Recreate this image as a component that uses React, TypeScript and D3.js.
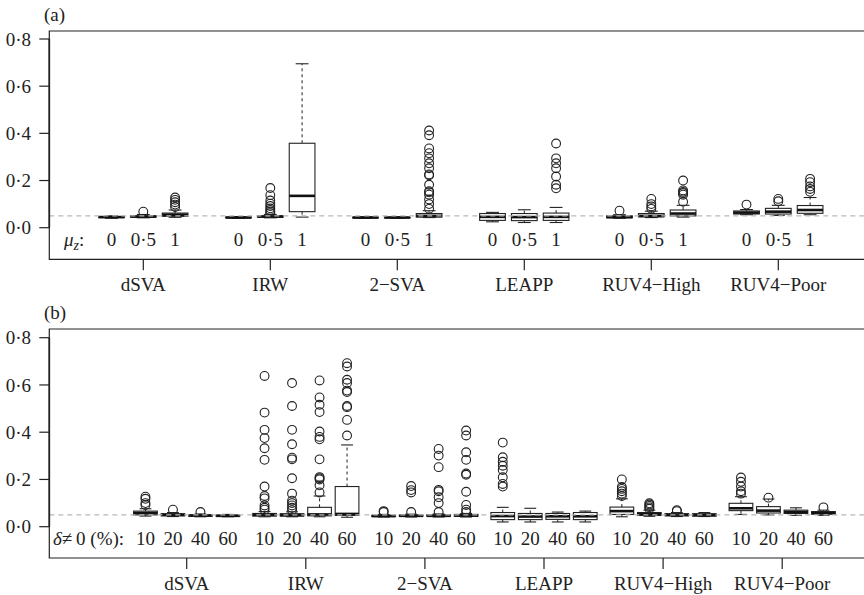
import React from 'react';
import * as d3 from 'd3';

const methods = ['dSVA', 'IRW', '2\u2212SVA', 'LEAPP', 'RUV4\u2212High', 'RUV4\u2212Poor'];
const muLevels = ['0', '0\u00b75', '1'];
const deltaLevels = ['10', '20', '40', '60'];
const yTicks = [0, 0.2, 0.4, 0.6, 0.8];
const nominal = 0.05;

// [lower whisker, q1, median, q3, upper whisker] per method, per level
const statsA = [
  [[0.040, 0.043, 0.045, 0.047, 0.050], [0.042, 0.045, 0.047, 0.050, 0.056], [0.044, 0.048, 0.055, 0.062, 0.075]],
  [[0.040, 0.042, 0.043, 0.045, 0.047], [0.042, 0.045, 0.047, 0.050, 0.056], [0.045, 0.068, 0.135, 0.358, 0.695]],
  [[0.040, 0.042, 0.043, 0.044, 0.046], [0.040, 0.042, 0.043, 0.044, 0.046], [0.043, 0.045, 0.050, 0.060, 0.072]],
  [[0.025, 0.031, 0.046, 0.060, 0.065], [0.022, 0.030, 0.045, 0.060, 0.076], [0.022, 0.031, 0.046, 0.062, 0.086]],
  [[0.040, 0.042, 0.045, 0.050, 0.055], [0.043, 0.046, 0.050, 0.060, 0.070], [0.045, 0.050, 0.060, 0.075, 0.095]],
  [[0.055, 0.058, 0.064, 0.071, 0.077], [0.052, 0.058, 0.068, 0.082, 0.095], [0.055, 0.061, 0.075, 0.094, 0.128]],
];
const outliersA = [
  [[], [0.068], [0.088, 0.098, 0.108, 0.118, 0.128]],
  [[], [0.062, 0.068, 0.075, 0.082, 0.092, 0.102, 0.115, 0.138, 0.168], []],
  [[], [], [0.08, 0.1, 0.12, 0.14, 0.15, 0.155, 0.182, 0.222, 0.226, 0.252, 0.273, 0.294, 0.316, 0.336, 0.392, 0.412]],
  [[], [], [0.167, 0.182, 0.217, 0.252, 0.273, 0.294, 0.357]],
  [[0.072], [0.08, 0.09, 0.1, 0.122], [0.11, 0.14, 0.147, 0.152, 0.158, 0.2]],
  [[0.098], [0.112, 0.122], [0.152, 0.164, 0.175, 0.193, 0.207]],
];

const statsB = [
  [[0.045, 0.050, 0.058, 0.066, 0.076], [0.043, 0.046, 0.050, 0.055, 0.060], [0.042, 0.045, 0.047, 0.050, 0.054], [0.042, 0.044, 0.046, 0.049, 0.052]],
  [[0.042, 0.045, 0.050, 0.056, 0.064], [0.042, 0.045, 0.049, 0.055, 0.063], [0.042, 0.046, 0.052, 0.082, 0.130], [0.040, 0.048, 0.054, 0.170, 0.346]],
  [[0.041, 0.043, 0.045, 0.048, 0.052], [0.041, 0.044, 0.046, 0.049, 0.053], [0.041, 0.044, 0.046, 0.050, 0.054], [0.041, 0.044, 0.047, 0.052, 0.056]],
  [[0.020, 0.030, 0.045, 0.060, 0.082], [0.020, 0.030, 0.043, 0.056, 0.078], [0.020, 0.031, 0.044, 0.056, 0.062], [0.020, 0.030, 0.044, 0.060, 0.066]],
  [[0.042, 0.052, 0.066, 0.083, 0.118], [0.044, 0.048, 0.053, 0.060, 0.070], [0.043, 0.046, 0.050, 0.055, 0.060], [0.043, 0.045, 0.049, 0.055, 0.060]],
  [[0.052, 0.068, 0.078, 0.099, 0.127], [0.050, 0.058, 0.068, 0.085, 0.117], [0.048, 0.056, 0.062, 0.070, 0.080], [0.048, 0.053, 0.058, 0.064, 0.070]],
];
const outliersB = [
  [[0.092, 0.1, 0.118, 0.127], [0.072], [0.062], []],
  [[0.072, 0.08, 0.09, 0.12, 0.13, 0.17, 0.283, 0.332, 0.375, 0.41, 0.483, 0.638],
   [0.07, 0.08, 0.09, 0.1, 0.11, 0.14, 0.205, 0.285, 0.292, 0.349, 0.41, 0.511, 0.608],
   [0.145, 0.175, 0.2, 0.205, 0.21, 0.285, 0.37, 0.38, 0.403, 0.485, 0.516, 0.547, 0.619],
   [0.386, 0.452, 0.506, 0.511, 0.57, 0.576, 0.608, 0.622, 0.678, 0.692]],
  [[0.062, 0.066], [0.062, 0.145, 0.155, 0.172], [0.062, 0.1, 0.125, 0.15, 0.156, 0.252, 0.301, 0.329],
   [0.062, 0.072, 0.092, 0.148, 0.22, 0.225, 0.283, 0.315, 0.386, 0.407]],
  [[0.17, 0.181, 0.209, 0.24, 0.258, 0.275, 0.294, 0.356], [], [], []],
  [[0.13, 0.14, 0.15, 0.16, 0.168, 0.2], [0.076, 0.082, 0.088, 0.094, 0.099], [0.066, 0.07], []],
  [[0.14, 0.15, 0.17, 0.19, 0.208], [0.123], [], [0.082]],
];

const font = '"Liberation Serif", "Times New Roman", serif';
const fs = 19;
const fmt = (v: number) => d3.format('.1f')(v).replace('.', '\u00b7');

function Panel(props: any) {
  const { top, bottom, y0, y8, gx0, gStep, sub, boxW, levels, stats, outliers, tag, levelLabel } = props;
  const left = 49.3;
  const right = 900;
  const y = d3.scaleLinear().domain([0, 0.8]).range([y0, y8]);
  const gx = d3.scaleLinear().domain([0, 1]).range([gx0, gx0 + gStep]);
  const off = d3.scaleLinear().domain([0, 1]).range([-(levels.length - 1) / 2 * sub, -(levels.length - 1) / 2 * sub + sub]);
  const xAt = (g: number, j: number) => gx(g) + off(j);
  const subY = bottom - 13;
  return (
    <g>
      <text x={44} y={top - 10} fontSize={fs} fontFamily={font} fill="#222">{tag}</text>
      {methods.map((m, g) =>
        levels.map((lv: string, j: number) => {
          const [lo, q1, md, q3, hi] = stats[g][j];
          const cx = xAt(g, j);
          const hw = boxW / 2;
          return (
            <g key={m + lv}>
              <line x1={cx} x2={cx} y1={y(q3)} y2={y(hi)} stroke="#222" strokeWidth={1} strokeDasharray="3,3" />
              <line x1={cx} x2={cx} y1={y(q1)} y2={y(lo)} stroke="#222" strokeWidth={1} strokeDasharray="3,3" />
              <line x1={cx - hw / 2} x2={cx + hw / 2} y1={y(hi)} y2={y(hi)} stroke="#222" strokeWidth={1.1} />
              <line x1={cx - hw / 2} x2={cx + hw / 2} y1={y(lo)} y2={y(lo)} stroke="#222" strokeWidth={1.1} />
              <rect x={cx - hw} width={boxW} y={y(q3)} height={Math.max(0.5, y(q1) - y(q3))} fill="white" stroke="#222" strokeWidth={1.1} />
              <line x1={cx - hw} x2={cx + hw} y1={y(md)} y2={y(md)} stroke="#111" strokeWidth={2.6} />
              {outliers[g][j].map((o: number, k: number) => (
                <circle key={k} cx={cx} cy={y(o)} r={4.4} fill="none" stroke="#222" strokeWidth={1.1} />
              ))}
              <text x={cx} y={subY} textAnchor="middle" fontSize={fs} fontFamily={font} fill="#222">{lv}</text>
            </g>
          );
        })
      )}
      {/* dashed reference level drawn over the boxes */}
      <line x1={left} x2={right} y1={y(nominal)} y2={y(nominal)} stroke="#b8b8b8" strokeWidth={1.1} strokeDasharray="5,4" />
      {levelLabel(subY)}
      {/* frame */}
      <path d={`M${right},${top}H${left}V${bottom}H${right}`} fill="none" stroke="#222" strokeWidth={1.2} />
      {/* y axis */}
      <line x1={left} x2={left} y1={y(0)} y2={y(0.8)} stroke="#222" strokeWidth={1.7} />
      {yTicks.map(t => (
        <g key={t}>
          <line x1={left - 10} x2={left} y1={y(t)} y2={y(t)} stroke="#222" strokeWidth={1.2} />
          <text x={31} y={y(t)} dy="0.35em" textAnchor="end" fontSize={fs} fontFamily={font} fill="#222">{fmt(t)}</text>
        </g>
      ))}
      {/* group axis */}
      {methods.map((m, g) => (
        <g key={m}>
          <line x1={gx(g)} x2={gx(g)} y1={bottom} y2={bottom + 11} stroke="#222" strokeWidth={1.2} />
          <text x={gx(g)} y={bottom + 32} textAnchor="middle" fontSize={fs} fontFamily={font} fill="#222">{m}</text>
        </g>
      ))}
    </g>
  );
}

export default function App() {
  return (
    <svg width={864} height={595} style={{ position: 'absolute', left: 0, top: 0, background: 'white' }}>
      <Panel
        top={31} bottom={259.3} y0={227.7} y8={39}
        gx0={143.3} gStep={127} sub={31.8} boxW={25.7}
        levels={muLevels} stats={statsA} outliers={outliersA} tag="(a)"
        levelLabel={(yy: number) => (
          <text x={64} y={yy} fontSize={fs} fontFamily={font} fill="#222">
            <tspan fontStyle="italic">{'\u03bc'}</tspan>
            <tspan fontStyle="italic" fontSize={14} dy={4}>z</tspan>
            <tspan dy={-4}>:</tspan>
          </text>
        )}
      />
      <Panel
        top={329} bottom={558} y0={526.7} y8={337.7}
        gx0={186.7} gStep={119.1} sub={27.5} boxW={23.7}
        levels={deltaLevels} stats={statsB} outliers={outliersB} tag="(b)"
        levelLabel={(yy: number) => (
          <text x={53} y={yy} fontSize={fs} fontFamily={font} fill="#222">
            <tspan fontStyle="italic">{'\u03b4'}</tspan>
            <tspan>{'\u2260\u20090 (%):'}</tspan>
          </text>
        )}
      />
    </svg>
  );
}
